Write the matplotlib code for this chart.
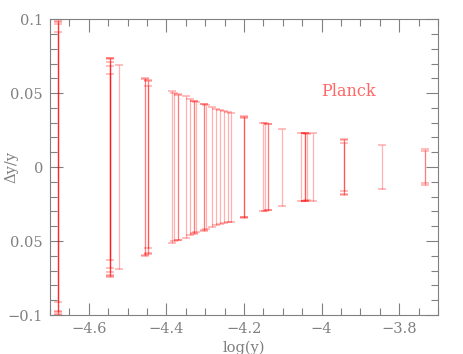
import matplotlib
matplotlib.use('Agg')
import matplotlib.pyplot as plt
from matplotlib.ticker import MultipleLocator

# log(y) position of each error bar and its half-width dy/y
logy = [-4.679, -4.679, -4.679, -4.679, -4.679,
        -4.545, -4.545, -4.545, -4.545, -4.545, -4.545,
        -4.523,
        -4.455, -4.455, -4.447, -4.447, -4.447,
        -4.386, -4.380, -4.370, -4.370, -4.349, -4.339,
        -4.330, -4.330, -4.323, -4.304, -4.304, -4.298,
        -4.283, -4.271, -4.261, -4.252, -4.242, -4.233,
        -4.201, -4.201, -4.201,
        -4.152, -4.145, -4.138, -4.138,
        -4.102,
        -4.054, -4.042, -4.042, -4.042, -4.038, -4.023,
        -3.943, -3.943, -3.943,
        -3.844,
        -3.734, -3.734]
dy = [0.100, 0.099, 0.098, 0.097, 0.091,
      0.074, 0.0735, 0.073, 0.071, 0.068, 0.063,
      0.069,
      0.060, 0.0595, 0.059, 0.058, 0.0545,
      0.0514, 0.050, 0.0496, 0.049, 0.048, 0.0458,
      0.045, 0.0445, 0.044, 0.0429, 0.0425, 0.042,
      0.0406, 0.039, 0.0385, 0.0377, 0.037, 0.0368,
      0.0343, 0.034, 0.0335,
      0.030, 0.030, 0.029, 0.0288,
      0.026,
      0.0227, 0.0232, 0.023, 0.0228, 0.0225, 0.0227,
      0.0187, 0.0185, 0.016,
      0.0148,
      0.012, 0.0108]

grey = '#808080'
plt.rcParams['font.family'] = ['DejaVu Serif']

fig = plt.figure(figsize=(4.63, 3.54), dpi=100)
ax = fig.add_axes([0.108, 0.110, 0.838, 0.836])

for x, e in zip(logy, dy):
    ax.errorbar(x, 0, yerr=e, fmt='none', ecolor=(1, 0, 0, 0.3),
                elinewidth=0.9, capsize=3.2, capthick=1.2)

ax.set_xlim(-4.7, -3.7)
ax.set_ylim(-0.1, 0.1)
ax.xaxis.set_minor_locator(MultipleLocator(0.05))
ax.yaxis.set_minor_locator(MultipleLocator(0.01))
ax.set_xticks([-4.6, -4.4, -4.2, -4.0, -3.8])
ax.set_xticklabels(['\u22124.6', '\u22124.4', '\u22124.2', '\u22124', '\u22123.8'])
ax.set_yticks([-0.1, -0.05, 0, 0.05, 0.1])
ax.set_yticklabels(['\u22120.1', '0.05', '0', '0.05', '0.1'])

ax.tick_params(which='both', direction='in', top=True, right=True,
               color=grey, labelcolor=grey, labelsize=10.5, width=0.8)
ax.tick_params(which='major', length=9, pad=5)
ax.tick_params(which='minor', length=5)
for s in ax.spines.values():
    s.set_color(grey)
    s.set_linewidth(0.8)

ax.set_xlabel('log(y)', color=grey, fontsize=10.5, labelpad=3)
ax.set_ylabel('\u0394y/y', color=grey, fontsize=10.5)
ax.yaxis.set_label_coords(-0.082, 0.5)
ax.text(-4.0, 0.048, 'Planck', color=(1, 0.4, 0.4), fontsize=11.5)

fig.savefig('out.png', dpi=100)
